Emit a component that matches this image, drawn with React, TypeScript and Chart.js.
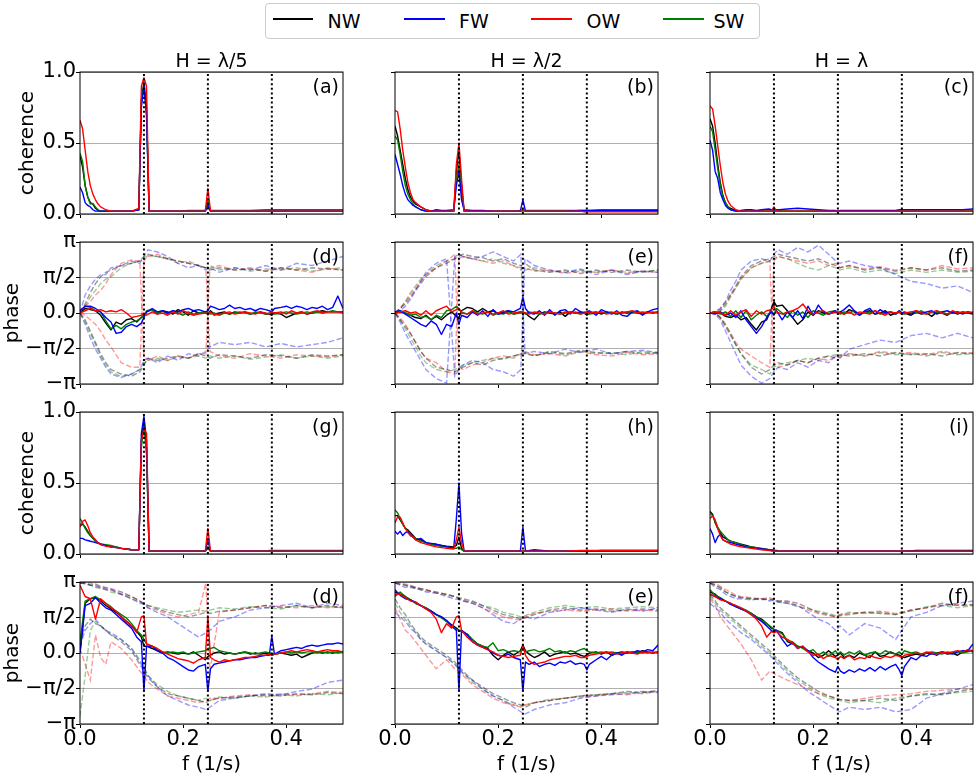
import React, { useEffect, useRef } from "react";
import { Chart, registerables } from "chart.js";
Chart.register(...registerables);

const FONT = "'DejaVu Sans', sans-serif";
const SERIES = ["NW", "FW", "OW", "SW"];
const COLORS = ["#000000", "#0000ff", "#ff0000", "#008000"];
const DRAW_ORDER = [8, 6, 5, 7]; // lower = drawn on top (OW red on top)
const DASH_COLORS = ["rgba(0,0,0,0.4)", "rgba(0,0,255,0.4)", "rgba(255,0,0,0.4)", "rgba(0,128,0,0.4)"];
const TITLES = ["H = λ/5", "H = λ/2", "H = λ"];
const HARMONICS = [0.124, 0.248, 0.372];
const X_TICKS = [0, 0.2, 0.4];
const X_TICK_LABELS = ["0.0", "0.2", "0.4"];
const X_MAX = 0.51;
const COH_TICKS = [0, 0.5, 1];
const COH_TICK_LABELS = ["0.0", "0.5", "1.0"];
const PHASE_TICKS = [-Math.PI, -Math.PI / 2, 0, Math.PI / 2, Math.PI];
const PHASE_TICK_LABELS = ["−π", "−π/2", "0.0", "π/2", "π"];

// frequency grids
const F_COH = [0, 0.005, 0.01, 0.015, 0.02, 0.025, 0.03, 0.035, 0.04, 0.05,
  0.06, 0.07, 0.08, 0.09, 0.1, 0.114, 0.119, 0.124, 0.129, 0.134,
  0.15, 0.17, 0.19, 0.21, 0.23, 0.243, 0.248, 0.253, 0.27, 0.3,
  0.33, 0.36, 0.367, 0.372, 0.377, 0.4, 0.43, 0.46, 0.49, 0.51];
const F_PH = [0, 0.01, 0.02, 0.03, 0.04, 0.05, 0.06, 0.07, 0.08, 0.09,
  0.1, 0.11, 0.119, 0.124, 0.129, 0.14, 0.15, 0.16, 0.17, 0.18,
  0.19, 0.2, 0.21, 0.22, 0.23, 0.243, 0.248, 0.253, 0.26, 0.27,
  0.28, 0.29, 0.3, 0.31, 0.32, 0.33, 0.34, 0.35, 0.36, 0.367,
  0.372, 0.377, 0.39, 0.4, 0.41, 0.42, 0.43, 0.44, 0.45, 0.46,
  0.47, 0.48, 0.49, 0.5, 0.51];
const F_DASH = [0, 0.01, 0.02, 0.03, 0.04, 0.05, 0.06, 0.08, 0.1, 0.116,
  0.124, 0.132, 0.15, 0.17, 0.19, 0.21, 0.23, 0.244, 0.252, 0.27,
  0.3, 0.33, 0.36, 0.39, 0.42, 0.45, 0.48, 0.51];

// ---- coherence (a) ----
const cohA_NW = [0.41, 0.33, 0.2, 0.12, 0.08, 0.07, 0.04, 0.025, 0.02, 0.02,
  0.02, 0.02, 0.02, 0.02, 0.02, 0.03, 0.8, 0.93, 0.75, 0.02,
  0.02, 0.02, 0.02, 0.02, 0.02, 0.02, 0.09, 0.02, 0.02, 0.02,
  0.02, 0.02, 0.02, 0.02, 0.02, 0.02, 0.02, 0.02, 0.02, 0.02];
const cohA_FW = [0.19, 0.15, 0.08, 0.06, 0.05, 0.03, 0.02, 0.02, 0.02, 0.02,
  0.02, 0.02, 0.02, 0.02, 0.02, 0.03, 0.75, 0.9, 0.7, 0.02,
  0.02, 0.02, 0.02, 0.02, 0.02, 0.02, 0.06, 0.02, 0.02, 0.02,
  0.02, 0.02, 0.02, 0.02, 0.02, 0.02, 0.02, 0.02, 0.02, 0.02];
const cohA_OW = [0.66, 0.6, 0.45, 0.3, 0.2, 0.14, 0.1, 0.07, 0.05, 0.03,
  0.02, 0.02, 0.02, 0.02, 0.02, 0.04, 0.9, 0.96, 0.9, 0.02,
  0.02, 0.02, 0.02, 0.02, 0.02, 0.02, 0.18, 0.02, 0.02, 0.02,
  0.02, 0.02, 0.02, 0.02, 0.02, 0.02, 0.02, 0.02, 0.02, 0.02];
const cohA_SW = [0.43, 0.37, 0.2, 0.12, 0.07, 0.075, 0.05, 0.03, 0.02, 0.02,
  0.02, 0.02, 0.02, 0.02, 0.02, 0.03, 0.8, 0.9, 0.7, 0.02,
  0.02, 0.02, 0.02, 0.025, 0.025, 0.025, 0.1, 0.025, 0.025, 0.025,
  0.025, 0.03, 0.03, 0.03, 0.03, 0.03, 0.03, 0.03, 0.03, 0.03];
// ---- coherence (b) ----
const cohB_NW = [0.62, 0.55, 0.45, 0.35, 0.25, 0.17, 0.12, 0.09, 0.07, 0.05,
  0.03, 0.02, 0.02, 0.02, 0.02, 0.02, 0.3, 0.45, 0.2, 0.02,
  0.02, 0.02, 0.02, 0.02, 0.02, 0.02, 0.03, 0.02, 0.02, 0.02,
  0.02, 0.02, 0.02, 0.02, 0.02, 0.02, 0.02, 0.02, 0.02, 0.02];
const cohB_FW = [0.42, 0.35, 0.28, 0.2, 0.14, 0.1, 0.08, 0.06, 0.05, 0.03,
  0.02, 0.02, 0.03, 0.025, 0.025, 0.03, 0.2, 0.3, 0.1, 0.03,
  0.025, 0.025, 0.02, 0.02, 0.02, 0.02, 0.1, 0.02, 0.02, 0.02,
  0.02, 0.025, 0.025, 0.025, 0.025, 0.025, 0.025, 0.025, 0.025, 0.025];
const cohB_OW = [0.73, 0.72, 0.6, 0.45, 0.33, 0.22, 0.15, 0.1, 0.08, 0.05,
  0.03, 0.02, 0.02, 0.02, 0.02, 0.02, 0.35, 0.5, 0.25, 0.02,
  0.02, 0.02, 0.02, 0.02, 0.02, 0.02, 0.02, 0.02, 0.02, 0.02,
  0.02, 0.02, 0.015, 0.015, 0.015, 0.015, 0.015, 0.015, 0.015, 0.015];
const cohB_SW = [0.55, 0.52, 0.42, 0.3, 0.2, 0.14, 0.1, 0.07, 0.05, 0.03,
  0.02, 0.02, 0.02, 0.02, 0.02, 0.02, 0.25, 0.35, 0.15, 0.02,
  0.02, 0.02, 0.02, 0.02, 0.02, 0.025, 0.025, 0.025, 0.025, 0.025,
  0.025, 0.025, 0.025, 0.025, 0.025, 0.03, 0.03, 0.03, 0.03, 0.03];
// ---- coherence (c) ----
const cohC_NW = [0.67, 0.62, 0.5, 0.35, 0.22, 0.13, 0.08, 0.05, 0.04, 0.025,
  0.02, 0.02, 0.02, 0.02, 0.02, 0.02, 0.02, 0.02, 0.02, 0.02,
  0.02, 0.02, 0.02, 0.02, 0.02, 0.02, 0.02, 0.02, 0.02, 0.02,
  0.02, 0.02, 0.02, 0.02, 0.02, 0.02, 0.02, 0.02, 0.02, 0.02];
const cohC_FW = [0.52, 0.45, 0.3, 0.25, 0.15, 0.1, 0.06, 0.04, 0.03, 0.02,
  0.025, 0.03, 0.03, 0.025, 0.03, 0.035, 0.03, 0.03, 0.03, 0.03,
  0.035, 0.04, 0.035, 0.03, 0.025, 0.025, 0.02, 0.025, 0.025, 0.025,
  0.025, 0.025, 0.03, 0.03, 0.03, 0.03, 0.03, 0.03, 0.03, 0.035];
const cohC_OW = [0.76, 0.74, 0.62, 0.48, 0.34, 0.22, 0.14, 0.09, 0.06, 0.03,
  0.02, 0.02, 0.02, 0.02, 0.02, 0.02, 0.02, 0.05, 0.02, 0.02,
  0.02, 0.02, 0.02, 0.02, 0.02, 0.02, 0.02, 0.02, 0.02, 0.02,
  0.02, 0.02, 0.02, 0.02, 0.02, 0.02, 0.02, 0.02, 0.02, 0.02];
const cohC_SW = [0.62, 0.58, 0.45, 0.32, 0.2, 0.12, 0.08, 0.05, 0.03, 0.02,
  0.02, 0.02, 0.02, 0.02, 0.02, 0.02, 0.02, 0.02, 0.02, 0.02,
  0.02, 0.02, 0.02, 0.02, 0.02, 0.02, 0.02, 0.02, 0.02, 0.02,
  0.02, 0.02, 0.02, 0.02, 0.02, 0.02, 0.02, 0.02, 0.02, 0.02];
// ---- coherence (g) ----
const cohG_NW = [0.2, 0.21, 0.19, 0.16, 0.13, 0.11, 0.09, 0.08, 0.07, 0.06,
  0.05, 0.05, 0.04, 0.035, 0.03, 0.03, 0.8, 0.93, 0.75, 0.02,
  0.02, 0.02, 0.02, 0.02, 0.02, 0.02, 0.05, 0.02, 0.02, 0.02,
  0.02, 0.02, 0.02, 0.02, 0.02, 0.02, 0.02, 0.02, 0.02, 0.02];
const cohG_FW = [0.11, 0.11, 0.1, 0.095, 0.09, 0.085, 0.08, 0.075, 0.07, 0.06,
  0.05, 0.045, 0.04, 0.035, 0.03, 0.03, 0.85, 0.97, 0.8, 0.02,
  0.02, 0.02, 0.02, 0.02, 0.02, 0.02, 0.1, 0.02, 0.02, 0.02,
  0.02, 0.02, 0.02, 0.02, 0.02, 0.02, 0.02, 0.02, 0.02, 0.02];
const cohG_OW = [0.19, 0.23, 0.24, 0.2, 0.15, 0.12, 0.1, 0.08, 0.065, 0.055,
  0.05, 0.045, 0.04, 0.035, 0.03, 0.03, 0.8, 0.88, 0.85, 0.02,
  0.02, 0.02, 0.02, 0.02, 0.02, 0.02, 0.18, 0.02, 0.02, 0.02,
  0.02, 0.02, 0.02, 0.02, 0.02, 0.02, 0.02, 0.02, 0.02, 0.02];
const cohG_SW = [0.25, 0.22, 0.18, 0.15, 0.13, 0.11, 0.09, 0.08, 0.07, 0.065,
  0.06, 0.05, 0.04, 0.035, 0.03, 0.03, 0.75, 0.9, 0.7, 0.02,
  0.02, 0.02, 0.02, 0.02, 0.02, 0.02, 0.04, 0.02, 0.02, 0.02,
  0.02, 0.02, 0.025, 0.025, 0.025, 0.025, 0.025, 0.025, 0.025, 0.025];
// ---- coherence (h) ----
const cohH_NW = [0.27, 0.27, 0.24, 0.21, 0.18, 0.17, 0.15, 0.13, 0.11, 0.1,
  0.08, 0.07, 0.065, 0.06, 0.055, 0.05, 0.06, 0.12, 0.04, 0.02,
  0.02, 0.02, 0.02, 0.02, 0.02, 0.02, 0.02, 0.02, 0.02, 0.02,
  0.02, 0.02, 0.02, 0.02, 0.02, 0.025, 0.025, 0.025, 0.025, 0.025];
const cohH_FW = [0.16, 0.14, 0.16, 0.13, 0.15, 0.16, 0.13, 0.12, 0.1, 0.11,
  0.08, 0.075, 0.07, 0.06, 0.05, 0.045, 0.25, 0.5, 0.15, 0.02,
  0.02, 0.02, 0.02, 0.02, 0.02, 0.02, 0.19, 0.02, 0.03, 0.02,
  0.02, 0.02, 0.02, 0.02, 0.02, 0.02, 0.02, 0.02, 0.02, 0.02];
const cohH_OW = [0.22, 0.26, 0.26, 0.22, 0.18, 0.15, 0.13, 0.12, 0.1, 0.08,
  0.07, 0.06, 0.05, 0.045, 0.04, 0.035, 0.1, 0.19, 0.08, 0.02,
  0.02, 0.02, 0.02, 0.02, 0.02, 0.02, 0.02, 0.02, 0.02, 0.02,
  0.02, 0.025, 0.025, 0.025, 0.025, 0.025, 0.025, 0.025, 0.025, 0.025];
const cohH_SW = [0.31, 0.29, 0.25, 0.21, 0.18, 0.16, 0.14, 0.12, 0.11, 0.09,
  0.08, 0.07, 0.06, 0.055, 0.05, 0.04, 0.04, 0.05, 0.03, 0.02,
  0.02, 0.02, 0.02, 0.02, 0.02, 0.02, 0.02, 0.02, 0.02, 0.02,
  0.02, 0.02, 0.02, 0.02, 0.02, 0.02, 0.02, 0.02, 0.02, 0.02];
// ---- coherence (i) ----
const cohI_NW = [0.3, 0.28, 0.22, 0.18, 0.15, 0.12, 0.11, 0.1, 0.09, 0.08,
  0.07, 0.06, 0.05, 0.045, 0.04, 0.03, 0.03, 0.025, 0.025, 0.02,
  0.02, 0.02, 0.02, 0.02, 0.02, 0.02, 0.02, 0.02, 0.02, 0.02,
  0.02, 0.02, 0.02, 0.02, 0.02, 0.025, 0.025, 0.025, 0.025, 0.025];
const cohI_FW = [0.18, 0.14, 0.08, 0.12, 0.14, 0.1, 0.09, 0.085, 0.08, 0.07,
  0.06, 0.05, 0.045, 0.04, 0.035, 0.03, 0.025, 0.02, 0.02, 0.02,
  0.02, 0.02, 0.02, 0.02, 0.02, 0.02, 0.02, 0.02, 0.02, 0.02,
  0.02, 0.02, 0.02, 0.02, 0.02, 0.02, 0.02, 0.02, 0.02, 0.02];
const cohI_OW = [0.25, 0.27, 0.24, 0.18, 0.13, 0.1, 0.09, 0.08, 0.07, 0.06,
  0.05, 0.045, 0.04, 0.035, 0.03, 0.025, 0.02, 0.02, 0.02, 0.02,
  0.02, 0.02, 0.02, 0.02, 0.02, 0.02, 0.02, 0.02, 0.02, 0.02,
  0.02, 0.02, 0.02, 0.02, 0.02, 0.02, 0.02, 0.02, 0.02, 0.02];
const cohI_SW = [0.29, 0.27, 0.23, 0.19, 0.16, 0.14, 0.12, 0.1, 0.09, 0.08,
  0.065, 0.055, 0.05, 0.045, 0.035, 0.03, 0.03, 0.025, 0.02, 0.02,
  0.02, 0.02, 0.02, 0.02, 0.02, 0.02, 0.02, 0.02, 0.02, 0.02,
  0.02, 0.02, 0.02, 0.02, 0.02, 0.02, 0.02, 0.02, 0.02, 0.02];

// ---- phase, row 2 (d) ----
const P1_NW = [0, .2, .15, .1, -.1, -.45, -.75, -.4, -.5, -.3, -.25, -.4, -.2, -.1, .05, .15, -.05, .1, .05, -.05,
  .15, .05, -.1, .1, 0, .05, -.05, .1, -.05, 0, .05, -.05, .05, 0, .05, -.05, 0, .05, -.05, -.05,
  -.1, 0, -.05, -.2, -.1, 0, .05, -.05, 0, .05, .1, .05, .05, .05, .05];
const P1_FW = [.1, .3, .3, .2, .05, -.2, -.4, -.9, -.85, -.6, -.5, -.6, -.45, -.2, .05, .2, .05, .1, 0, .1,
  .05, .15, .2, .1, .15, .05, .1, .3, .25, .15, .2, .35, .2, .25, .15, .2, .1, .2, .15, .1,
  .05, .2, .25, .3, .2, .3, .25, .15, .25, .2, .3, .15, .25, .75, .2];
const P1_OW = [0, .1, .2, .1, .15, .05, .1, .05, .15, 0, -.2, -.15, -.1, 0, -.1, .05, -.05, 0, -.1, .05,
  -.05, .1, 0, -.1, -.05, 0, -.05, .05, -.1, -.05, 0, .05, -.05, 0, .05, 0, -.05, .05, 0, -.05,
  .05, 0, .05, -.05, .1, 0, .05, -.05, .05, .1, 0, .05, .05, .05, 0];
const P1_SW = [.05, .3, .25, .1, .05, -.35, -.7, -.55, -.7, -.5, -.4, -.35, -.2, -.15, .1, .15, 0, .1, -.05, .1,
  0, -.1, .05, -.05, 0, .05, 0, -.05, 0, -.1, 0, -.05, 0, .05, 0, -.05, .05, 0, -.05, 0,
  0, -.05, 0, .05, 0, -.05, 0, .05, 0, .05, 0, .05, .1, .05, .05];
// ---- phase, row 2 (e) ----
const P2_NW = [0, .05, 0, -.1, -.2, -.25, -.1, -.3, -.15, -.3, -.1, .05, -.15, -.2, .1, .25, .2, .05, .2, .05,
  .1, -.05, .05, .1, -.05, .05, 0, 0, -.15, -.3, -.05, .05, 0, -.05, .05, -.15, .05, 0, .05, 0,
  -.1, 0, .05, -.05, .05, 0, -.05, .05, 0, .05, 0, -.05, .05, 0, .05];
const P2_FW = [.05, .1, -.05, -.2, -.35, -.5, -.6, -.35, -.5, -.95, -.5, -.6, 0, -.5, -.1, -.2, .05, -.1, .1, -.15,
  .15, -.05, 0, .1, .05, .2, .7, .2, 0, -.05, .1, -.1, .15, -.1, .1, .15, -.05, .2, .05, 0,
  .05, .1, -.1, .15, .05, -.05, .1, -.1, -.15, .05, .1, -.1, .05, .15, .2];
const P2_OW = [0, .05, .1, 0, .05, -.1, .1, -.1, .1, .2, .3, .05, .15, .2, 0, -.05, .1, -.05, 0, .05,
  -.05, 0, .1, -.05, 0, .05, .05, 0, -.05, .05, 0, -.05, .05, 0, -.05, .05, 0, .05, -.05, 0,
  0, .05, 0, .05, -.05, 0, .05, 0, .05, .1, 0, .05, 0, .05, 0];
const P2_SW = [.05, .1, 0, -.1, -.05, -.2, -.15, -.3, -.1, -.2, .1, .15, .3, .2, .05, -.05, .1, 0, -.05, .05,
  -.1, 0, -.05, .05, -.05, 0, .05, -.05, .05, 0, -.05, 0, .05, 0, -.05, 0, .05, 0, -.05, .05,
  0, -.05, 0, .05, 0, .05, -.05, 0, .05, 0, .05, 0, .05, 0, .05];
// ---- phase, row 2 (f) ----
const P3_NW = [0, .05, 0, -.15, -.2, -.1, -.3, -.2, -.5, -.75, -.4, -.3, .2, .5, .3, .35, .1, -.2, -.5, -.3,
  .05, -.1, .1, 0, -.05, .05, 0, .05, -.05, .15, .05, -.1, .05, .1, -.05, 0, .1, -.1, 0, .05,
  -.05, 0, -.1, .05, -.05, 0, -.15, .05, 0, -.1, .05, -.05, .05, 0, -.05];
const P3_FW = [0, -.05, .05, -.1, 0, -.2, .1, -.3, -.6, -.9, -.6, -.2, .05, -.1, .1, -.3, .05, -.2, .1, -.25,
  .3, -.1, .35, .05, -.05, .1, 0, .05, .15, .35, .1, -.1, .1, .2, -.05, .15, 0, .05, -.05, .1,
  0, .05, -.05, .1, 0, .05, .1, -.05, .05, .1, 0, .05, -.05, .05, 0];
const P3_OW = [0, .05, 0, -.1, .1, -.1, .05, .15, -.15, .1, -.05, .1, .15, .3, .05, -.05, .05, .1, .2, .4,
  .1, -.05, .05, .1, -.05, .05, .05, 0, -.05, .05, -.1, .05, 0, -.05, .1, 0, -.1, .05, 0, .05,
  -.05, 0, .05, .1, 0, -.05, .05, .1, 0, -.05, .1, 0, .05, 0, .05];
const P3_SW = [0, .05, -.05, .05, -.15, .1, -.2, .1, -.3, -.1, .05, -.15, .1, -.05, .2, 0, -.2, .1, -.1, .05,
  -.2, .1, 0, -.1, .05, .1, 0, -.05, .05, 0, .1, -.05, .05, 0, .1, -.05, 0, .05, -.05, .1,
  0, -.05, .05, 0, .1, -.05, .05, 0, .05, -.05, 0, .05, 0, .05, 0];
// ---- phase, row 4 (d) ----
const P4_NW = [0, 2.2, 2.4, 2.45, 2.3, 2.1, 1.95, 1.8, 1.6, 1.4, 1.2, .95, .7, .3, .3, .2, .1, 0, .05, 0,
  -.05, 0, -.05, .05, -.1, -.3, -.15, -.1, 0, .05, -.05, 0, -.05, 0, .05, -.05, 0, -.05, 0, -.05,
  -.1, -.05, 0, -.05, -.1, -.05, -.2, -.1, 0, .05, 0, .05, 0, .05, .05];
const P4_FW = [0, 2.1, 2.2, 2.45, 2.2, 2.0, 1.9, 1.7, 1.5, 1.3, 1.1, .7, .5, -1.7, .3, .3, .1, 0, -.2, -.3,
  -.45, -.6, -.75, -.8, -.6, -.5, -1.7, -.7, -.5, -.45, -.4, -.35, -.3, -.3, -.25, -.2, -.2, -.15, -.1, -.1,
  .75, -.05, .1, .15, .2, .25, .2, .3, .35, .3, .35, .4, .4, .45, .4];
const P4_OW = [3.0, 2.5, 2.4, 1.5, 2.4, 2.2, 2.0, 1.85, 1.6, 1.4, 1.2, .9, 1.6, 1.65, .4, .3, .2, .05, -.05, -.15,
  -.25, -.3, -.35, -.45, -.3, -.2, 1.65, -.2, -.3, -.4, -.3, -.35, -.3, -.25, -.2, -.2, -.15, -.1, -.1, -.05,
  -.1, -.05, 0, .05, .1, .05, .1, .15, .1, .05, .1, .15, .1, .1, .05];
const P4_SW = [.5, 2.3, 2.4, 2.5, 2.35, 2.2, 2.05, 1.85, 1.7, 1.55, 1.3, 1.0, .8, .6, .4, .3, .15, .05, 0, .05,
  0, .05, -.05, 0, .05, .1, .2, .2, .25, .1, .05, 0, -.05, 0, .05, 0, -.05, 0, .05, 0,
  0, -.05, 0, .05, 0, .05, 0, .05, .05, 0, .05, 0, .05, 0, .05];
// ---- phase, row 4 (e) ----
const P5_NW = [2.7, 2.6, 2.5, 2.35, 2.2, 2.1, 2.0, 1.85, 1.7, 1.6, 1.4, 1.25, 1.1, 1.0, 1.0, .8, .6, .4, .3, .2,
  -.1, -.3, -.1, .05, -.1, .1, .35, .1, -.05, -.2, -.1, .05, -.15, -.05, 0, .05, -.05, 0, -.1, -.15,
  -.1, 0, .05, -.05, .05, -.1, 0, .05, 0, .05, 0, .1, .05, 0, .05];
const P5_FW = [2.8, 2.55, 2.4, 2.35, 2.25, 2.1, 1.95, 1.85, 1.7, 1.6, 1.45, 1.2, 1.0, -1.7, 1.0, .8, .5, .35, .25, .15,
  0, -.1, -.15, -.05, -.2, -.3, -1.7, -.4, -.5, -.4, -.6, -.5, -.45, -.55, -.4, -.45, -.35, -.5, -.45, -.5,
  -.75, -.5, -.3, -.15, -.3, -.1, 0, -.1, .05, 0, .1, .05, .15, .1, .35];
const P5_OW = [2.6, 2.6, 2.45, 2.3, 2.25, 2.1, 1.95, 1.8, 1.5, .9, 1.3, 1.1, 1.6, 1.65, 1.0, .7, .5, .35, .25, .15,
  .05, -.1, -.15, -.2, -.15, -.1, .3, -.1, -.35, -.5, -.45, -.4, -.3, -.25, -.2, -.15, -.15, -.1, -.2, -.2,
  -.15, -.1, -.05, 0, .05, 0, -.05, 0, .05, 0, -.05, .05, 0, .05, 0];
const P5_SW = [2.5, 2.7, 2.5, 2.35, 2.2, 2.1, 2.0, 1.85, 1.7, 1.55, 1.4, 1.2, 1.05, 1.0, .95, .85, .6, .4, .3, .25,
  .45, .1, .15, .05, .1, .05, .2, .05, .1, .15, .05, .1, .2, .05, .1, 0, .1, .05, .15, .2,
  .1, .05, 0, .05, 0, .05, 0, -.05, .05, 0, .05, 0, .05, 0, .05];
// ---- phase, row 4 (f) ----
const P6_NW = [2.7, 2.6, 2.4, 2.3, 2.2, 2.05, 1.95, 1.85, 1.75, 1.6, 1.5, 1.3, 1.1, 1.05, 1.0, .9, .5, .4, .3, .25,
  .1, 0, -.2, -.1, .1, -.15, -.1, 0, -.2, -.1, -.2, 0, -.1, -.2, .05, -.15, -.1, .05, -.05, -.1,
  -.15, -.2, -.1, -.05, -.1, 0, -.05, 0, .05, -.05, 0, -.1, .05, .1, .05];
const P6_FW = [2.6, 2.5, 2.4, 2.3, 2.15, 2.05, 1.95, 1.85, 1.7, 1.55, 1.4, 1.2, 1.0, .9, 1.0, .6, .3, .45, .2, .3,
  .1, -.2, -.4, -.55, -.7, -.85, -.6, -.8, -.9, -.75, -.85, -.7, -.8, -.65, -.8, -.6, -.75, -.6, -.5, -.75,
  -1.0, -.6, -.2, -.3, -.1, -.15, 0, -.1, .05, 0, -.05, .05, .1, .1, .4];
const P6_OW = [2.6, 2.5, 2.35, 2.3, 2.2, 2.1, 2.0, 1.85, 1.7, 1.5, 1.2, .7, .95, .9, .95, .7, .6, .45, .2, .3,
  .05, -.1, -.05, -.25, -.1, -.2, -.3, -.15, -.25, -.1, -.3, -.2, -.25, -.1, -.2, -.25, -.15, -.2, -.1, -.15,
  -.2, -.1, -.05, 0, -.05, .05, 0, -.05, .05, 0, .05, .1, .05, .15, .1];
const P6_SW = [2.8, 2.55, 2.45, 2.3, 2.15, 2.1, 2.0, 1.9, 1.75, 1.6, 1.45, 1.3, 1.15, 1.05, 1.0, .85, .55, .5, .3, .2,
  .05, .15, -.1, .05, -.15, .1, -.05, .05, -.1, .05, -.05, .1, -.1, 0, .05, -.05, .1, 0, -.05, .05,
  -.05, .1, 0, .05, -.05, 0, .05, 0, -.05, .05, 0, .05, 0, .05, .1];

// ---- faded dashed phases, row 2 (d) ----
const D1_NW_UP = [0, .4, .9, 1.3, 1.6, 1.8, 1.9, 2.1, 2.2, 2.3, 2.5, 2.6, 2.5, 2.4, 2.3, 2.2, 2.1, 2.0, 1.9, 2.0, 1.9, 1.95, 1.85, 2.0, 1.9, 2.0, 1.95, 1.9];
const D1_FW_UP = [0, .8, 1.2, 1.5, 1.7, 1.7, 2.0, 2.1, 2.3, 2.2, 2.5, 2.8, 2.7, 2.5, 2.2, 2.0, 2.1, 1.9, 2.0, 1.8, 2.0, 1.9, 2.1, 1.9, 2.2, 2.1, 2.3, 2.5];
const D1_OW_UP = [0, .3, .5, .8, 1.0, 1.3, 1.7, 2.2, 2.35, 2.3, -1.9, -2.1, -1.9, -2.1, -1.9, -2.0, -1.8, -1.8, 2.0, 2.1, 1.9, 2.0, 1.85, 2.0, 1.9, 1.8, 2.0, 1.9];
const D1_SW_UP = [0, .3, .7, 1.0, 1.3, 1.5, 1.6, 2.0, 2.2, 2.3, 2.4, 2.55, 2.5, 2.4, 2.2, 2.3, 2.1, 2.0, 2.1, 1.9, 2.0, 1.85, 1.95, 1.9, 2.0, 1.85, 1.95, 2.0];
const D1_NW_LO = [0, -.3, -.8, -1.3, -1.8, -2.2, -2.5, -2.7, -2.8, -2.6, -2.3, -2.0, -2.1, -2.0, -1.9, -2.0, -1.8, -1.9, -2.0, -1.85, -1.9, -2.0, -1.85, -1.9, -2.0, -1.85, -1.9, -1.85];
const D1_FW_LO = [0, -.5, -1.1, -1.6, -2.0, -2.4, -2.7, -2.85, -2.7, -2.5, -2.1, -2.0, -2.2, -1.9, -2.1, -1.8, -1.9, -1.7, -1.5, -1.3, -1.4, -1.3, -1.5, -1.35, -1.5, -1.4, -1.3, -1.1];
const D1_OW_LO = [0, -.1, -.3, -.5, -.8, -1.2, -1.5, -2.2, -2.4, -2.4, 2.3, 2.5, 2.6, 2.4, 2.3, 2.2, 2.1, 2.0, -1.7, -1.9, -2.0, -1.8, -1.9, -2.0, -1.85, -1.9, -1.95, -1.85];
const D1_SW_LO = [0, -.4, -.9, -1.4, -1.9, -2.3, -2.6, -2.8, -2.7, -2.5, -2.2, -2.1, -2.0, -2.1, -1.95, -2.0, -1.9, -2.0, -1.9, -2.0, -1.9, -2.05, -1.95, -1.85, -2.0, -1.9, -2.0, -1.9];
// ---- row 2 (e) ----
const D2_NW_UP = [0, .2, .4, .7, 1.0, 1.3, 1.6, 2.0, 2.2, 2.4, 2.5, 2.6, 2.5, 2.45, 2.3, 2.4, 2.2, 2.1, 2.2, 1.9, 1.8, 1.9, 1.75, 1.9, 1.8, 1.9, 1.8, 1.9];
const D2_FW_UP = [0, .1, .3, .6, 1.0, 1.4, 1.8, 2.2, 2.4, -2.8, -2.5, -2.3, -2.1, -2.2, -2.5, -2.6, -2.8, -2.5, 2.4, 2.1, 1.9, 1.8, 1.95, 1.7, 1.9, 1.7, 1.85, 1.8];
const D2_OW_UP = [0, .2, .5, .8, 1.1, 1.4, 1.7, 2.0, 2.3, 2.6, -2.4, -2.5, -2.3, -2.2, -2.0, -1.9, -2.0, -1.8, -1.7, -1.85, -1.8, -1.9, -1.7, -1.85, -1.9, -1.75, -1.85, -1.8];
const D2_SW_UP = [0, .2, .5, .9, 1.2, 1.5, 1.7, 2.1, 2.3, 2.4, 2.6, 2.5, 2.4, 2.3, 2.4, 2.2, 2.1, 2.0, 1.9, 2.0, 1.85, 1.8, 1.9, 1.8, 1.9, 1.75, 1.85, 1.9];
const D2_NW_LO = [0, -.3, -.6, -.9, -1.3, -1.7, -2.0, -2.4, -2.5, -2.6, -2.5, -2.4, -2.2, -2.3, -2.1, -2.0, -1.9, -1.8, -1.75, -1.9, -1.7, -1.8, -1.65, -1.75, -1.8, -1.7, -1.8, -1.75];
const D2_FW_LO = [0, -.4, -.9, -1.3, -1.7, -2.1, -2.5, -2.9, -3.1, 2.5, 2.6, 2.5, 2.4, 2.5, 2.7, 2.5, 2.3, 2.6, -1.8, -1.7, -1.8, -1.6, -1.75, -1.6, -1.8, -1.7, -1.65, -1.75];
const D2_OW_LO = [0, -.2, -.5, -.9, -1.3, -1.7, -2.0, -2.2, -2.6, -2.7, 2.4, 2.5, 2.4, 2.3, 2.2, 2.3, 2.1, 1.9, 2.0, 1.85, 1.9, 1.75, 1.85, 1.8, 1.9, 1.8, 1.85, 1.8];
const D2_SW_LO = [0, -.3, -.7, -1.1, -1.5, -1.9, -2.2, -2.5, -2.6, -2.5, -2.4, -2.3, -2.2, -2.1, -2.0, -2.05, -1.9, -1.85, -1.8, -1.9, -1.75, -1.85, -1.7, -1.8, -1.75, -1.85, -1.7, -1.8];
// ---- row 2 (f) ----
const D3_NW_UP = [0, 0, .1, .4, .8, 1.2, 1.6, 2.1, 2.3, 2.4, 2.5, 2.6, 2.5, 2.4, 2.3, 2.4, 2.2, 2.1, 2.0, 2.1, 1.9, 2.0, 1.85, 2.0, 1.9, 2.0, 1.85, 1.9];
const D3_FW_UP = [0, .05, .2, .5, 1.0, 1.4, 1.9, 2.3, 2.4, 2.3, 2.6, 2.8, 2.6, 2.9, 2.7, 3.0, 2.6, 2.3, 2.2, 2.3, 2.1, 2.0, 1.7, 1.4, 1.3, 1.1, 1.2, .9];
const D3_OW_UP = [0, .05, .2, .5, .8, 1.1, 1.5, 2.0, 2.2, 2.3, -2.2, -2.4, -2.3, -2.1, -2.2, -2.0, -2.1, -1.9, -1.95, -1.8, -1.9, -1.7, -1.8, -1.75, -1.85, -1.7, -1.8, -1.75];
const D3_SW_UP = [0, 0, .1, .3, .7, 1.1, 1.5, 2.0, 2.2, 2.3, 2.4, 2.5, 2.4, 2.2, 2.0, 1.9, 2.1, 2.0, 1.9, 2.0, 1.8, 1.9, 1.75, 1.9, 1.8, 1.9, 1.8, 1.85];
const D3_NW_LO = [0, 0, -.2, -.6, -1.0, -1.4, -1.8, -2.4, -2.7, -2.5, -2.3, -2.2, -2.3, -2.1, -2.2, -2.0, -1.9, -2.0, -1.85, -1.9, -1.8, -1.9, -1.75, -1.85, -1.8, -1.9, -1.75, -1.8];
const D3_FW_LO = [0, -.05, -.3, -.8, -1.3, -1.8, -2.3, -2.8, -3.1, -2.9, -2.6, -2.4, -2.5, -2.2, -2.4, -2.1, -2.2, -1.9, -2.0, -1.6, -1.4, -1.2, -1.3, -1.0, -.9, -1.1, -.9, -1.1];
const D3_OW_LO = [0, 0, -.2, -.5, -.9, -1.3, -1.6, -1.9, -2.2, -2.4, 2.3, 2.5, 2.4, 2.3, 2.2, 2.3, 2.1, 2.2, 2.0, 2.1, 1.95, 2.05, 1.9, 2.0, 1.9, 2.1, 1.95, 2.0];
const D3_SW_LO = [0, 0, -.2, -.5, -.9, -1.4, -1.8, -2.3, -2.5, -2.7, -2.4, -2.3, -2.2, -2.1, -2.0, -2.1, -1.9, -1.85, -1.9, -1.8, -1.9, -1.75, -1.85, -1.8, -1.9, -1.75, -1.85, -1.8];
// ---- row 4 (d) ----
const D4_NW_UP = [3.1, 3.1, 3.0, 3.05, 2.95, 2.9, 2.85, 2.7, 2.5, 2.3, 2.2, 2.1, 1.95, 1.8, 1.7, 1.6, 1.7, 1.8, 1.75, 1.85, 1.9, 2.0, 2.1, 2.0, 2.1, 2.0, 2.1, 2.0];
const D4_FW_UP = [3.1, 3.1, 3.0, 2.95, 2.9, 2.85, 2.8, 2.6, 2.4, 2.25, 2.15, 2.0, 1.8, 1.6, 1.3, 1.0, .7, .9, 1.0, 1.4, 1.6, 1.9, 2.0, 2.1, 2.2, 2.0, 2.2, 2.1];
const D4_OW_UP = [3.1, 3.1, 3.1, 3.0, 2.9, 2.8, 2.8, 2.6, 2.5, 2.3, 2.2, 2.0, 1.9, 1.7, 1.6, 1.7, 1.8, 3.1, -.8, 1.8, 1.9, 2.0, 2.1, 2.05, 2.0, 2.1, 2.0, 2.05];
const D4_SW_UP = [3.1, 3.05, 3.0, 2.9, 2.85, 2.8, 2.7, 2.6, 2.4, 2.2, 2.15, 2.1, 2.0, 1.9, 1.8, 1.85, 1.9, 1.85, 1.9, 2.0, 1.95, 2.05, 2.0, 1.95, 2.1, 2.0, 2.05, 2.0];
const D4_NW_LO = [.5, 1.2, 1.5, 1.3, 1.2, 1.0, .8, .5, .1, -.5, -.8, -1.1, -1.5, -1.8, -1.9, -2.0, -2.1, -2.2, -2.1, -2.0, -1.95, -1.9, -1.85, -1.9, -1.8, -1.85, -1.75, -1.8];
const D4_FW_LO = [.3, 1.0, 1.3, 1.5, 1.2, 1.0, .9, .6, .2, -.4, -.7, -1.0, -1.5, -1.9, -2.1, -2.3, -2.4, -2.5, -2.4, -2.1, -2.0, -1.9, -1.8, -1.85, -1.7, -1.6, -1.3, -1.2];
const D4_OW_LO = [.2, -.5, -1.2, .8, -.2, -.5, .5, .2, -.3, -.8, -1.0, -1.3, -1.6, -1.9, -2.0, -2.1, -2.2, -2.1, -2.0, -2.0, -1.9, -1.85, -1.9, -1.8, -1.85, -1.8, -1.7, -1.75];
const D4_SW_LO = [-2.8, -1.0, 1.0, 1.4, 1.2, 1.0, .8, .6, .2, -.3, -.6, -1.0, -1.4, -1.7, -1.9, -2.0, -2.1, -2.0, -2.1, -1.95, -2.0, -1.9, -1.95, -1.85, -1.9, -1.8, -1.85, -1.75];
// ---- row 4 (e) ----
const D5_NW_UP = [3.1, 3.05, 3.0, 2.95, 2.9, 2.85, 2.8, 2.65, 2.6, 2.5, 2.45, 2.4, 2.3, 2.1, 1.9, 1.7, 1.6, 1.5, 1.55, 1.7, 1.9, 2.0, 1.9, 1.95, 1.85, 1.9, 1.95, 1.9];
const D5_FW_UP = [3.1, 3.0, 2.9, 2.95, 2.85, 2.8, 2.7, 2.65, 2.5, 2.4, 2.35, 2.3, 2.2, 2.0, 1.7, 1.4, 1.3, 1.5, 1.6, 1.5, 1.8, 1.9, 2.0, 1.9, 1.8, 1.95, 1.85, 2.0];
const D5_OW_UP = [3.1, 3.1, 3.05, 3.0, 2.9, 2.85, 2.8, 2.7, 2.6, 2.5, 2.4, 2.35, 2.2, 2.0, 1.8, 1.6, 1.5, 1.45, 1.6, 1.75, 1.85, 1.9, 1.85, 1.9, 1.95, 1.85, 1.9, 1.85];
const D5_SW_UP = [3.1, 3.05, 3.0, 2.9, 2.85, 2.8, 2.75, 2.7, 2.55, 2.5, 2.4, 2.3, 2.25, 2.1, 2.0, 1.8, 1.7, 1.6, 1.65, 1.8, 2.0, 2.1, 2.0, 2.05, 1.95, 2.0, 2.05, 2.0];
const D5_NW_LO = [2.4, 2.0, 1.7, 1.3, 1.0, .7, .5, .2, -.1, -.4, -.6, -.8, -1.2, -1.5, -1.8, -2.0, -2.2, -2.3, -2.4, -2.2, -2.1, -2.0, -1.9, -1.85, -1.8, -1.7, -1.75, -1.65];
const D5_FW_LO = [1.8, 1.6, 1.4, 1.1, .9, .6, .4, .1, -.2, -.5, -.7, -.9, -1.2, -1.6, -1.9, -2.1, -2.4, -2.6, -2.7, -2.5, -2.3, -2.2, -2.0, -1.9, -1.85, -1.8, -1.7, -1.75];
const D5_OW_LO = [2.0, 1.5, 1.0, .8, .5, .2, -.1, -.7, -.3, -.7, -.8, -1.0, -1.4, -1.7, -2.0, -2.2, -2.3, -2.4, -2.3, -2.2, -2.1, -2.0, -1.95, -1.9, -1.8, -1.85, -1.75, -1.7];
const D5_SW_LO = [2.2, 1.8, 1.5, 1.2, .9, .6, .4, .1, -.2, -.5, -.7, -.9, -1.3, -1.6, -1.9, -2.1, -2.3, -2.35, -2.3, -2.2, -2.05, -2.0, -1.9, -1.85, -1.8, -1.75, -1.8, -1.7];
// ---- row 4 (f) ----
const D6_NW_UP = [3.1, 3.0, 2.9, 2.7, 2.6, 2.5, 2.45, 2.4, 2.4, 2.35, 2.4, 2.3, 2.3, 2.2, 2.0, 1.8, 1.7, 1.6, 1.65, 1.7, 1.8, 1.75, 1.7, 1.9, 2.0, 2.2, 2.1, 2.15];
const D6_FW_UP = [3.1, 2.9, 2.8, 2.6, 2.5, 2.4, 2.4, 2.35, 2.4, 2.3, 2.35, 2.25, 2.2, 2.1, 1.8, 1.5, 1.3, 1.0, 1.2, .8, 1.3, 1.1, .6, 1.6, 1.8, 2.1, 2.2, 2.3];
const D6_OW_UP = [3.1, 3.1, 2.95, 2.8, 2.7, 2.55, 2.5, 2.45, 2.4, 2.45, 2.35, 2.3, 2.25, 2.1, 1.9, 1.75, 1.65, 1.6, 1.7, 1.75, 1.8, 1.85, 1.75, 1.9, 2.0, 2.1, 2.15, 2.1];
const D6_SW_UP = [3.1, 3.0, 2.85, 2.7, 2.6, 2.5, 2.45, 2.4, 2.35, 2.4, 2.3, 2.25, 2.2, 2.05, 1.95, 1.85, 1.75, 1.65, 1.7, 1.8, 1.75, 1.8, 1.7, 1.85, 2.05, 2.1, 2.0, 2.1];
const D6_NW_LO = [2.6, 2.3, 2.0, 1.8, 1.6, 1.4, 1.2, .8, .4, .1, -.1, -.3, -.7, -1.1, -1.4, -1.7, -1.9, -2.0, -2.05, -2.1, -2.1, -2.0, -2.1, -1.9, -1.8, -1.85, -1.7, -1.6];
const D6_FW_LO = [2.2, 2.0, 1.8, 1.5, 1.3, 1.1, .9, .6, .2, -.1, -.3, -.5, -.9, -1.3, -1.7, -2.0, -2.3, -2.5, -2.6, -2.4, -2.5, -2.4, -2.6, -2.5, -2.0, -1.8, -1.6, -1.4];
const D6_OW_LO = [2.4, 2.1, 1.6, 1.3, 1.0, .7, .4, -.3, -1.2, -.8, -.9, -1.0, -1.2, -1.4, -1.6, -1.8, -1.9, -2.0, -2.05, -2.1, -2.0, -1.9, -1.85, -1.8, -1.7, -1.65, -1.6, -1.6];
const D6_SW_LO = [2.5, 2.2, 1.9, 1.7, 1.5, 1.3, 1.1, .7, .3, 0, -.2, -.4, -.8, -1.2, -1.5, -1.8, -2.0, -2.05, -2.1, -2.2, -2.1, -2.2, -2.0, -1.9, -1.85, -1.8, -1.75, -1.7];

type PanelSpec = {
  row: number; col: number; label: string; kind: "coh" | "phase";
  solid: number[][]; up?: number[][]; lo?: number[][];
};

const PANELS: PanelSpec[] = [
  { row: 0, col: 0, label: "(a)", kind: "coh", solid: [cohA_NW, cohA_FW, cohA_OW, cohA_SW] },
  { row: 0, col: 1, label: "(b)", kind: "coh", solid: [cohB_NW, cohB_FW, cohB_OW, cohB_SW] },
  { row: 0, col: 2, label: "(c)", kind: "coh", solid: [cohC_NW, cohC_FW, cohC_OW, cohC_SW] },
  { row: 1, col: 0, label: "(d)", kind: "phase", solid: [P1_NW, P1_FW, P1_OW, P1_SW],
    up: [D1_NW_UP, D1_FW_UP, D1_OW_UP, D1_SW_UP], lo: [D1_NW_LO, D1_FW_LO, D1_OW_LO, D1_SW_LO] },
  { row: 1, col: 1, label: "(e)", kind: "phase", solid: [P2_NW, P2_FW, P2_OW, P2_SW],
    up: [D2_NW_UP, D2_FW_UP, D2_OW_UP, D2_SW_UP], lo: [D2_NW_LO, D2_FW_LO, D2_OW_LO, D2_SW_LO] },
  { row: 1, col: 2, label: "(f)", kind: "phase", solid: [P3_NW, P3_FW, P3_OW, P3_SW],
    up: [D3_NW_UP, D3_FW_UP, D3_OW_UP, D3_SW_UP], lo: [D3_NW_LO, D3_FW_LO, D3_OW_LO, D3_SW_LO] },
  { row: 2, col: 0, label: "(g)", kind: "coh", solid: [cohG_NW, cohG_FW, cohG_OW, cohG_SW] },
  { row: 2, col: 1, label: "(h)", kind: "coh", solid: [cohH_NW, cohH_FW, cohH_OW, cohH_SW] },
  { row: 2, col: 2, label: "(i)", kind: "coh", solid: [cohI_NW, cohI_FW, cohI_OW, cohI_SW] },
  { row: 3, col: 0, label: "(d)", kind: "phase", solid: [P4_NW, P4_FW, P4_OW, P4_SW],
    up: [D4_NW_UP, D4_FW_UP, D4_OW_UP, D4_SW_UP], lo: [D4_NW_LO, D4_FW_LO, D4_OW_LO, D4_SW_LO] },
  { row: 3, col: 1, label: "(e)", kind: "phase", solid: [P5_NW, P5_FW, P5_OW, P5_SW],
    up: [D5_NW_UP, D5_FW_UP, D5_OW_UP, D5_SW_UP], lo: [D5_NW_LO, D5_FW_LO, D5_OW_LO, D5_SW_LO] },
  { row: 3, col: 2, label: "(f)", kind: "phase", solid: [P6_NW, P6_FW, P6_OW, P6_SW],
    up: [D6_NW_UP, D6_FW_UP, D6_OW_UP, D6_SW_UP], lo: [D6_NW_LO, D6_FW_LO, D6_OW_LO, D6_SW_LO] },
];

// layout (pixels)
const COL_LEFT = [80, 395, 710];
const ROW_TOP = [72, 242, 412, 582];
const PLOT_W = 263;
const PLOT_H = 142;
const M_LEFT = 80;
const M_TOP = 20;
const M_RIGHT = 8;
const X_H_BOTTOM = 52;
const X_H_OTHER = 14;

const pts = (xs: number[], ys: number[]) => xs.map((x, i) => ({ x, y: ys[i] }));

// draws the axes frame, panel tag, tick labels and axis titles using the chart's scales
const framePlugin = {
  id: "frame",
  afterDatasetsDraw(chart: any, _args: any, opts: any) {
    const { ctx, chartArea: a, scales } = chart;
    ctx.save();
    ctx.strokeStyle = "#000";
    ctx.lineWidth = 1;
    ctx.strokeRect(a.left, a.top, a.right - a.left, a.bottom - a.top);
    ctx.fillStyle = "#000";
    ctx.font = `19px ${FONT}`;
    ctx.textAlign = "right";
    ctx.textBaseline = "middle";
    ctx.fillText(opts.label, a.right - 4, a.top + 16);

    ctx.font = `21px ${FONT}`;
    if (opts.first) {
      ctx.textAlign = "right";
      ctx.textBaseline = "middle";
      opts.yTicks.forEach((v: number, i: number) => {
        ctx.fillText(opts.yLabels[i], a.left - 4, scales.y.getPixelForValue(v));
      });
      ctx.save();
      ctx.font = `20px ${FONT}`;
      ctx.textAlign = "center";
      ctx.translate(opts.yTitleX, (a.top + a.bottom) / 2);
      ctx.rotate(-Math.PI / 2);
      ctx.fillText(opts.yTitle, 0, 0);
      ctx.restore();
    }
    if (opts.bottom) {
      ctx.textAlign = "center";
      ctx.textBaseline = "middle";
      X_TICKS.forEach((v, i) => {
        ctx.fillText(X_TICK_LABELS[i], scales.x.getPixelForValue(v), a.bottom + 16);
      });
      ctx.font = `20px ${FONT}`;
      ctx.fillText("f (1/s)", (a.left + a.right) / 2, a.bottom + 41);
    }
    ctx.restore();
  },
};

function buildConfig(p: PanelSpec): any {
  const isCoh = p.kind === "coh";
  const bottom = p.row === 3;
  const first = p.col === 0;
  const yMin = isCoh ? 0 : -Math.PI;
  const yMax = isCoh ? 1 : Math.PI;
  const xs = isCoh ? F_COH : F_PH;
  const datasets: any[] = [];
  if (p.up && p.lo) {
    [p.up, p.lo].forEach((group) => {
      group.forEach((arr, k) => {
        datasets.push({
          data: pts(F_DASH, arr), borderColor: DASH_COLORS[k], borderWidth: 1.4,
          borderDash: [5.5, 2.4], pointRadius: 0, fill: false, tension: 0, order: 20 + k,
        });
      });
    });
  }
  p.solid.forEach((arr, k) => {
    datasets.push({
      label: SERIES[k], data: pts(xs, arr), borderColor: COLORS[k], borderWidth: 1.4,
      pointRadius: 0, fill: false, tension: 0, order: DRAW_ORDER[k], borderJoinStyle: "round",
    });
  });
  HARMONICS.forEach((h) => {
    datasets.push({
      data: [{ x: h, y: yMin }, { x: h, y: yMax }], borderColor: "#000", borderWidth: 2,
      borderDash: [2, 2.6], pointRadius: 0, fill: false, order: 0,
    });
  });
  return {
    type: "line",
    data: { datasets },
    plugins: [framePlugin],
    options: {
      animation: false,
      responsive: true,
      maintainAspectRatio: false,
      events: [],
      layout: { padding: { left: 0, right: M_RIGHT, top: M_TOP, bottom: 0 } },
      plugins: {
        legend: { display: false }, tooltip: { enabled: false }, title: { display: false },
        frame: {
          label: p.label, first, bottom,
          yTicks: isCoh ? COH_TICKS : PHASE_TICKS,
          yLabels: isCoh ? COH_TICK_LABELS : PHASE_TICK_LABELS,
          yTitle: isCoh ? "coherence" : "phase",
          yTitleX: isCoh ? 28 : 13,
        },
      },
      scales: {
        x: {
          type: "linear", min: 0, max: X_MAX,
          afterBuildTicks: (s: any) => { s.ticks = X_TICKS.map((v) => ({ value: v })); },
          afterFit: (s: any) => { s.height = bottom ? X_H_BOTTOM : X_H_OTHER; },
          ticks: { autoSkip: false, maxRotation: 0, padding: 0, callback: () => "" },
          grid: { drawOnChartArea: false, drawTicks: true, tickLength: 4, tickColor: "#000", tickWidth: 1 },
          border: { display: false },
          title: { display: false },
        },
        y: {
          type: "linear", min: yMin, max: yMax,
          afterBuildTicks: (s: any) => { s.ticks = (isCoh ? COH_TICKS : PHASE_TICKS).map((v) => ({ value: v })); },
          afterFit: (s: any) => { s.width = M_LEFT; },
          ticks: { autoSkip: false, padding: 0, callback: () => "" },
          grid: { color: "#b0b0b0", lineWidth: 1, drawTicks: true, tickLength: 4, tickColor: "#000", tickWidth: 1 },
          border: { display: false },
          title: { display: false },
        },
      },
    },
  };
}

function Panel({ spec }: { spec: PanelSpec }) {
  const ref = useRef<HTMLCanvasElement>(null);
  useEffect(() => {
    const chart = new Chart(ref.current as HTMLCanvasElement, buildConfig(spec));
    return () => chart.destroy();
  }, [spec]);
  const xh = spec.row === 3 ? X_H_BOTTOM : X_H_OTHER;
  return (
    <div style={{
      position: "absolute", left: COL_LEFT[spec.col] - M_LEFT, top: ROW_TOP[spec.row] - M_TOP,
      width: M_LEFT + PLOT_W + M_RIGHT, height: M_TOP + PLOT_H + xh,
    }}>
      <canvas ref={ref} />
    </div>
  );
}

const LEGEND_LINE_X = [272.7, 404, 531, 663.3];
const LEGEND_TEXT_X = [327.5, 459, 586.5, 713.5];

export default function App() {
  return (
    <div style={{ position: "absolute", left: 0, top: 0, width: 976, height: 776, overflow: "hidden", background: "#fff", fontFamily: FONT }}>
      {PANELS.map((p, i) => <Panel key={i} spec={p} />)}
      {TITLES.map((t, c) => (
        <div key={t} style={{ position: "absolute", left: COL_LEFT[c], width: PLOT_W, top: 48, textAlign: "center", fontSize: 19, lineHeight: "24px", color: "#000", whiteSpace: "nowrap" }}>{t}</div>
      ))}
      <div style={{ position: "absolute", left: 265, top: 3, width: 495, height: 36, border: "1px solid #cccccc", borderRadius: 4, boxSizing: "border-box", background: "#fff" }} />
      {SERIES.map((s, k) => (
        <React.Fragment key={s}>
          <div style={{ position: "absolute", left: LEGEND_LINE_X[k], top: 18, width: 40.5, height: 1.5, background: COLORS[k] }} />
          <div style={{ position: "absolute", left: LEGEND_TEXT_X[k], top: 8.5, fontSize: 19, lineHeight: "24px", color: "#000", whiteSpace: "nowrap" }}>{s}</div>
        </React.Fragment>
      ))}
    </div>
  );
}
